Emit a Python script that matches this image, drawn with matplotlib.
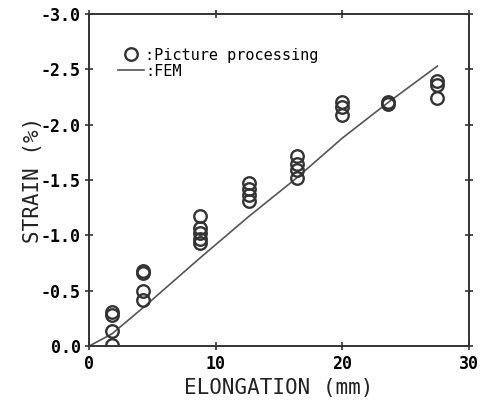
import matplotlib
matplotlib.use("Agg")
import matplotlib.pyplot as plt

#DATA
# picture processing measurements (x = elongation mm, y = strain %)
pp_x = [1.8, 1.8, 1.8, 1.8,
        4.3, 4.3, 4.3, 4.3,
        8.8, 8.8, 8.8, 8.8, 8.8,
        12.6, 12.6, 12.6, 12.6,
        16.4, 16.4, 16.4, 16.4,
        20.0, 20.0, 20.0,
        23.6, 23.6,
        27.5, 27.5, 27.5]
pp_y = [-0.31, -0.28, -0.14, -0.01,
        -0.68, -0.66, -0.50, -0.42,
        -1.18, -1.07, -1.02, -0.97, -0.93,
        -1.47, -1.42, -1.37, -1.31,
        -1.72, -1.65, -1.59, -1.52,
        -2.21, -2.16, -2.09,
        -2.21, -2.19,
        -2.40, -2.36, -2.24]

# FEM curve
fem_x = [0, 1.8, 4.3, 8.8, 12.6, 16.4, 20.0, 23.6, 27.5]
fem_y = [0, -0.11, -0.35, -0.80, -1.17, -1.52, -1.88, -2.20, -2.53]

x_ticks = [0, 10, 20, 30]
y_ticks = [0.0, -0.5, -1.0, -1.5, -2.0, -2.5, -3.0]

#FIGURE
fig = plt.figure(figsize=(4.86, 4.03), dpi=100)
ax = fig.add_axes([0.183, 0.141, 0.782, 0.824])

mono = "DejaVu Sans Mono"
ink = "#333333"

ax.plot(fem_x, fem_y, color="#555555", lw=1.2, label=":FEM")
ax.plot(pp_x, pp_y, ls="none", marker="o", ms=9, mfc="none", mec=ink,
        mew=1.7, label=":Picture processing")

ax.set_xlim(0, 30)
ax.set_ylim(0, -3.0)
ax.set_xticks(x_ticks)
ax.set_yticks(y_ticks)
ax.set_xticklabels([str(t) for t in x_ticks], family=mono, weight="bold", fontsize=12)
ax.set_yticklabels(["%.1f" % t for t in y_ticks], family=mono, weight="bold", fontsize=12)
ax.tick_params(direction="inout", length=6, width=1.2, color=ink,
               top=True, right=True, pad=3)

for s in ax.spines.values():
    s.set_linewidth(1.4)
    s.set_color(ink)

ax.set_xlabel("ELONGATION (mm)", family=mono, fontsize=15, color="#222222", labelpad=4)
ax.set_ylabel("STRAIN (%)", family=mono, fontsize=15, color="#222222", labelpad=-2)

# legend: marker first, then line
h, l = ax.get_legend_handles_labels()
leg = ax.legend(h[::-1], l[::-1], loc="upper left", bbox_to_anchor=(0.04, 0.94),
                frameon=False, handlelength=1.7, handletextpad=0.1,
                labelspacing=0.05, prop={"family": mono, "size": 11})

fig.savefig("out.png", dpi=100)
